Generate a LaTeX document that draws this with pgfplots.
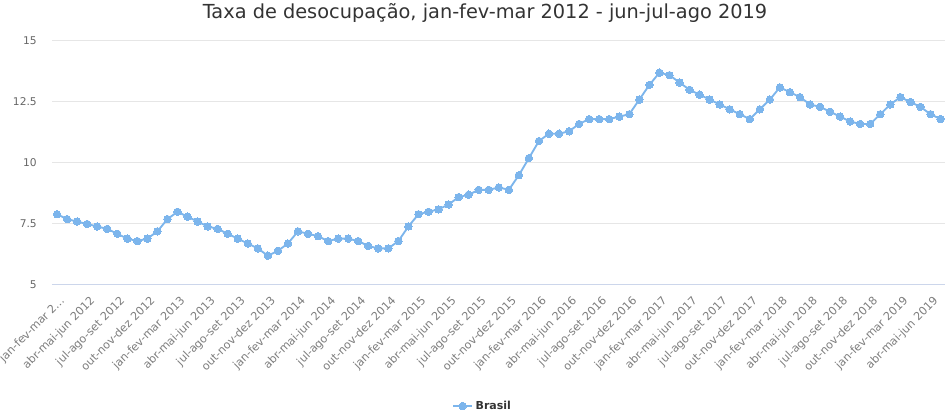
\documentclass[border=0pt]{standalone}
\usepackage{fontspec}
\setmainfont{DejaVu Sans}
\usepackage{pgfplots}
\usepackage{pgfplotstable}
\pgfplotsset{compat=1.18}
\definecolor{series}{HTML}{7CB5EC}
\definecolor{gridc}{HTML}{E6E6E6}
\definecolor{axisc}{HTML}{CCD6EB}
\definecolor{labc}{HTML}{666666}
\definecolor{titc}{HTML}{333333}
\pgfplotstableread{
x y
0 7.9
1 7.7
2 7.6
3 7.5
4 7.4
5 7.3
6 7.1
7 6.9
8 6.8
9 6.9
10 7.2
11 7.7
12 8.0
13 7.8
14 7.6
15 7.4
16 7.3
17 7.1
18 6.9
19 6.7
20 6.5
21 6.2
22 6.4
23 6.7
24 7.2
25 7.1
26 7.0
27 6.8
28 6.9
29 6.9
30 6.8
31 6.6
32 6.5
33 6.5
34 6.8
35 7.4
36 7.9
37 8.0
38 8.1
39 8.3
40 8.6
41 8.7
42 8.9
43 8.9
44 9.0
45 8.9
46 9.5
47 10.2
48 10.9
49 11.2
50 11.2
51 11.3
52 11.6
53 11.8
54 11.8
55 11.8
56 11.9
57 12.0
58 12.6
59 13.2
60 13.7
61 13.6
62 13.3
63 13.0
64 12.8
65 12.6
66 12.4
67 12.2
68 12.0
69 11.8
70 12.2
71 12.6
72 13.1
73 12.9
74 12.7
75 12.4
76 12.3
77 12.1
78 11.9
79 11.7
80 11.6
81 11.6
82 12.0
83 12.4
84 12.7
85 12.5
86 12.3
87 12.0
88 11.8
89 11.8
}\brasil
\begin{document}
\begin{tikzpicture}
\useasboundingbox (-39pt,-98.25pt) rectangle (669.75pt,213.75pt);
\clip (-39pt,-98.25pt) rectangle (669.75pt,213.75pt);
\begin{axis}[
  at={(0pt,0pt)}, anchor=south west,
  scale only axis, width=677.7pt, height=183pt,
  xmin=-0.5, xmax=89.5, ymin=5, ymax=15,
  ytick={5,7.5,10,12.5,15},
  xtick={0,3,...,87},
  xticklabels={jan-fev-mar 2…, abr-mai-jun 2012, jul-ago-set 2012, out-nov-dez 2012,
    jan-fev-mar 2013, abr-mai-jun 2013, jul-ago-set 2013, out-nov-dez 2013,
    jan-fev-mar 2014, abr-mai-jun 2014, jul-ago-set 2014, out-nov-dez 2014,
    jan-fev-mar 2015, abr-mai-jun 2015, jul-ago-set 2015, out-nov-dez 2015,
    jan-fev-mar 2016, abr-mai-jun 2016, jul-ago-set 2016, out-nov-dez 2016,
    jan-fev-mar 2017, abr-mai-jun 2017, jul-ago-set 2017, out-nov-dez 2017,
    jan-fev-mar 2018, abr-mai-jun 2018, jul-ago-set 2018, out-nov-dez 2018,
    jan-fev-mar 2019, abr-mai-jun 2019},
  axis line style={draw=none},
  major tick length=0pt,
  ymajorgrids, grid style={gridc, line width=0.75pt},
  /pgf/number format/assume math mode=true,
  yticklabel style={font=\fontsize{8}{9}\selectfont, text=labc, anchor=east, inner sep=0pt, xshift=-11.25pt},
  xticklabel style={font=\fontsize{8.4}{10}\selectfont, text=labc!85, xshift=1.5pt, yshift=-7.5pt, rotate=45, anchor=north east, inner sep=0pt},
  legend style={at={(0.477,-0.496)}, anchor=center, draw=none, fill=none, font=\bfseries\fontsize{8.25}{10}\selectfont, text=titc, inner sep=0pt},
  legend image code/.code={\draw[mark repeat=2, mark phase=2] plot coordinates {(0pt,0pt) (7pt,0pt) (14pt,0pt)};},
]
\draw[axisc, line width=0.75pt] (rel axis cs:0,0) -- (rel axis cs:1,0);
\addplot[color=series, line width=1.4pt, mark=*, mark size=2.8pt, mark options={solid, fill=series, draw=series, line width=0pt}] table[x=x, y=y] {\brasil};
\addlegendentry{Brasil}
\end{axis}
\node[anchor=base, inner sep=0pt, text=titc, font=\fontsize{14.5}{17}\selectfont] at (324.75pt,199.9pt) {Taxa de desocupação, jan-fev-mar 2012 - jun-jul-ago 2019};
\end{tikzpicture}
\end{document}
